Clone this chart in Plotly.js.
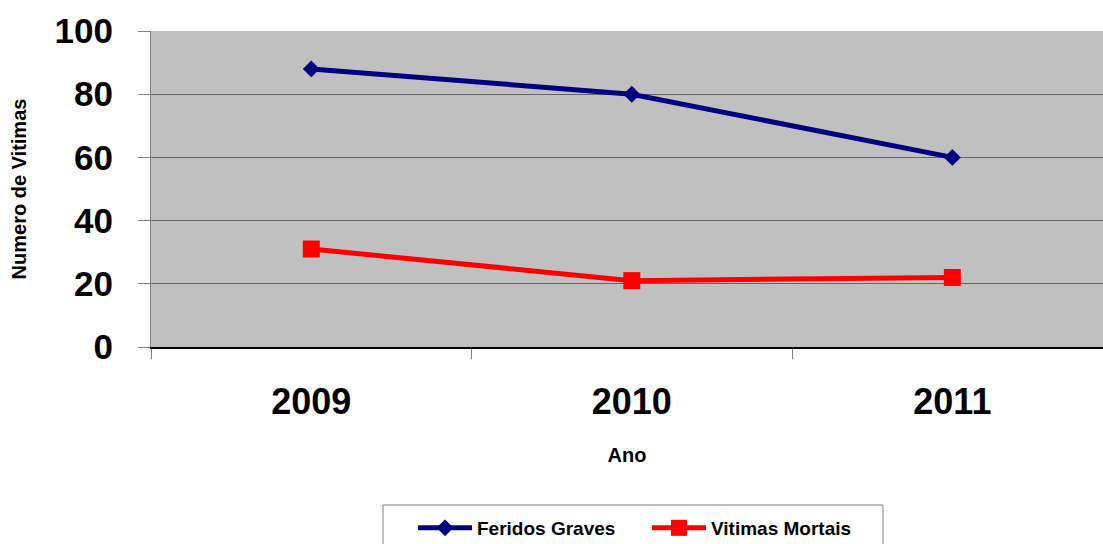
<!DOCTYPE html>
<html>
<head>
<meta charset="utf-8">
<script src="https://cdn.plot.ly/plotly-3.0.1.min.js"></script>
<style>html,body{margin:0;padding:0;background:#fff;}#chart{width:1103px;height:544px;}</style>
</head>
<body>
<div id="chart"></div>
<script>
var years = ["2009", "2010", "2011"];
var feridosGraves = [88, 80, 60];
var vitimasMortais = [31, 21, 22];
var seriesNames = ["Feridos Graves", "Vitimas Mortais"];
var yTicks = [0, 20, 40, 60, 80, 100];

var FONT = "Liberation Sans, Arial, sans-serif";

var traces = [
  {
    x: years, y: feridosGraves, name: seriesNames[0], type: "scatter", mode: "lines+markers",
    line: {color: "#000080", width: 5},
    marker: {symbol: "diamond", size: 13, color: "#000080"}
  },
  {
    x: years, y: vitimasMortais, name: seriesNames[1], type: "scatter", mode: "lines+markers",
    line: {color: "#FF0000", width: 5},
    marker: {symbol: "square", size: 17, color: "#FF0000"}
  }
];

var layout = {
  width: 1103, height: 544,
  margin: {l: 151, r: 0, t: 31, b: 197, pad: 0},
  paper_bgcolor: "#FFFFFF",
  plot_bgcolor: "#C0C0C0",
  showlegend: true,
  font: {family: FONT, color: "#000000"},
  xaxis: {
    type: "category",
    range: [-0.5, 2.47],
    tickson: "boundaries",
    ticks: "outside", ticklen: 10, tickcolor: "#808080", tickwidth: 1,
    showline: true, linecolor: "#000000", linewidth: 2,
    showgrid: false, zeroline: false,
    tickfont: {family: FONT, size: 36, weight: "bold", color: "#000000"},
    ticklabelstandoff: 22,
    title: {text: "Ano", font: {family: FONT, size: 20, weight: "bold", color: "#000000"}, standoff: 27},
    automargin: false,
    fixedrange: true
  },
  yaxis: {
    range: [0, 100],
    tickvals: yTicks,
    ticks: "outside", ticklen: 12, tickcolor: "#808080", tickwidth: 1,
    showline: true, linecolor: "#808080", linewidth: 1,
    showgrid: true, gridcolor: "#666666", gridwidth: 1,
    zeroline: false,
    tickfont: {family: FONT, size: 35, weight: "bold", color: "#000000"},
    ticklabelstandoff: 18,
    title: {text: "Numero de Vitimas", font: {family: FONT, size: 20, weight: "bold", color: "#000000"}, standoff: 22},
    automargin: false,
    fixedrange: true
  },
  shapes: [{
    type: "rect", xref: "paper", yref: "paper",
    x0: (383 - 151) / 952, x1: (883 - 151) / 952,
    y0: (347 - 505) / 316, y1: -0.75,
    line: {color: "#808080", width: 1},
    fillcolor: "#FFFFFF"
  }],
  legend: {
    orientation: "h",
    xref: "paper", x: (413 - 151) / 952, xanchor: "left",
    yref: "container", y: 1 - 509/544, yanchor: "top",
    bgcolor: "rgba(0,0,0,0)", borderwidth: 0,
    font: {family: FONT, size: 19, weight: "bold", color: "#000000"},
    entrywidth: 165,
    itemwidth: 54
  }
};

Plotly.newPlot("chart", traces, layout, {displayModeBar: false, staticPlot: true});
</script>
</body>
</html>
